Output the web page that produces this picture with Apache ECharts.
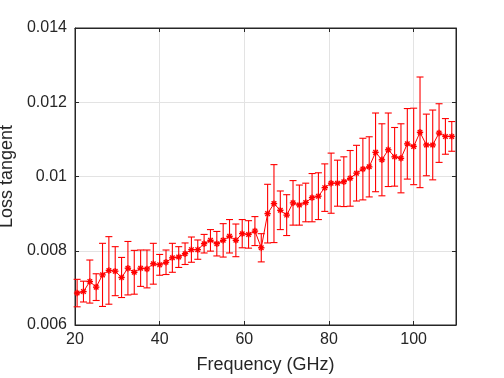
<!DOCTYPE html>
<html>
<head>
<meta charset="utf-8">
<script src="https://cdn.jsdelivr.net/npm/echarts@6/dist/echarts.min.js"></script>
<style>
  html, body { margin: 0; padding: 0; background: #fff; }
  #chart { width: 504px; height: 378px; }
</style>
</head>
<body>
<div id="chart"></div>
<script>
// frequency points (GHz)
var freq = [
  20.5, 22, 23.5, 25, 26.5, 28, 29.5, 31, 32.5, 34,
  35.5, 37, 38.5, 40, 41.5, 43, 44.5, 46, 47.5, 49,
  50.5, 52, 53.5, 55, 56.5, 58, 59.5, 61, 62.5, 64,
  65.5, 67, 68.5, 70, 71.5, 73, 74.5, 76, 77.5, 79,
  80.5, 82, 83.5, 85, 86.5, 88, 89.5, 91, 92.5, 94,
  95.5, 97, 98.5, 100, 101.5, 103, 104.5, 106, 107.5, 109
]
// mean loss tangent
var lossTan = [
  0.00686, 0.00690, 0.00717, 0.00702, 0.00735, 0.00747, 0.00745, 0.00728, 0.00753, 0.00742,
  0.00753, 0.00751, 0.00765, 0.00762, 0.00769, 0.00781, 0.00783, 0.00792, 0.00803, 0.00803,
  0.00819, 0.00828, 0.00819, 0.00828, 0.00839, 0.00828, 0.00846, 0.00844, 0.00853, 0.00808,
  0.00900, 0.00927, 0.00909, 0.00896, 0.00929, 0.00923, 0.00930, 0.00943, 0.00947, 0.00970,
  0.00982, 0.00982, 0.00986, 0.00995, 0.01009, 0.01020, 0.01026, 0.01065, 0.01045, 0.01072,
  0.01053, 0.01049, 0.01088, 0.01081, 0.01119, 0.01085, 0.01085, 0.01117, 0.01108, 0.01108
]
// half length of the error bar
var errBar = [
  0.00037, 0.00028, 0.00058, 0.00036, 0.00085, 0.00091, 0.00066, 0.00054, 0.00072, 0.00059,
  0.00049, 0.00051, 0.00055, 0.00028, 0.00033, 0.00039, 0.00028, 0.00029, 0.00034, 0.00026,
  0.00025, 0.00029, 0.00033, 0.00045, 0.00045, 0.00044, 0.00038, 0.00037, 0.00039, 0.00038,
  0.00079, 0.00105, 0.00052, 0.00055, 0.00060, 0.00054, 0.00052, 0.00065, 0.00063, 0.00064,
  0.00081, 0.00062, 0.00067, 0.00075, 0.00075, 0.00083, 0.00081, 0.00106, 0.00097, 0.00099,
  0.00079, 0.00093, 0.00095, 0.00103, 0.00149, 0.00083, 0.00094, 0.00079, 0.00048, 0.00040
]
var xTicks = [20, 40, 60, 80, 100]
var yTicks = ['0.006', '0.008', '0.01', '0.012', '0.014']

var red = '#ff0000'
var axisColor = '#262626'
var font = 'Liberation Sans, Arial, sans-serif'

var lineData = freq.map(function (f, i) { return [f, lossTan[i]] })
var barData = freq.map(function (f, i) { return [f, lossTan[i] - errBar[i], lossTan[i] + errBar[i], lossTan[i]] })

function renderErr(params, api) {
  var lo = api.coord([api.value(0), api.value(1)])
  var hi = api.coord([api.value(0), api.value(2)])
  var c = api.coord([api.value(0), api.value(3)])
  var cap = 3.5
  var r = 3.2
  var st = { stroke: red, lineWidth: 1.1 }
  var kids = [
    { type: 'line', shape: { x1: lo[0], y1: lo[1], x2: hi[0], y2: hi[1] }, style: st },
    { type: 'line', shape: { x1: lo[0] - cap, y1: lo[1], x2: lo[0] + cap, y2: lo[1] }, style: st },
    { type: 'line', shape: { x1: hi[0] - cap, y1: hi[1], x2: hi[0] + cap, y2: hi[1] }, style: st }
  ]
  // asterisk marker
  for (var k = 0; k < 4; k++) {
    var a = k * Math.PI / 4
    kids.push({
      type: 'line',
      shape: { x1: c[0] - r * Math.cos(a), y1: c[1] - r * Math.sin(a), x2: c[0] + r * Math.cos(a), y2: c[1] + r * Math.sin(a) },
      style: { stroke: red, lineWidth: 1.4 }
    })
  }
  return { type: 'group', children: kids }
}

var chart = echarts.init(document.getElementById('chart'))
chart.setOption({
  animation: false,
  backgroundColor: '#fff',
  grid: {
    left: 75, right: 48, top: 28, bottom: 53,
    outerBoundsMode: 'none', containLabel: false,
    show: true, borderColor: axisColor, borderWidth: 1
  },
  xAxis: [{
    type: 'value', min: 20, max: 110, interval: 20,
    name: 'Frequency (GHz)', nameLocation: 'middle', nameGap: 31,
    nameTextStyle: { fontFamily: font, fontSize: 18, color: axisColor },
    axisLine: { show: true, lineStyle: { color: axisColor } },
    axisTick: { show: true, inside: true, length: 4, lineStyle: { color: axisColor } },
    axisLabel: {
      fontFamily: font, fontSize: 16, color: axisColor, margin: 7, showMaxLabel: false,
      formatter: function (v) { return xTicks.indexOf(v) >= 0 ? String(v) : '' }
    },
    splitLine: { show: true, lineStyle: { color: '#e3e3e3' } }
  }, {
    type: 'value', min: 20, max: 110, interval: 20, position: 'top',
    axisLine: { show: true, lineStyle: { color: axisColor } },
    axisTick: { show: true, inside: true, length: 4, lineStyle: { color: axisColor } },
    axisLabel: { show: false }, splitLine: { show: false }
  }],
  yAxis: [{
    type: 'value', min: 0.006, max: 0.014, interval: 0.002,
    name: 'Loss tangent', nameLocation: 'middle', nameGap: 54,
    nameTextStyle: { fontFamily: font, fontSize: 18, color: axisColor },
    axisLine: { show: true, lineStyle: { color: axisColor } },
    axisTick: { show: true, inside: true, length: 4, lineStyle: { color: axisColor } },
    axisLabel: {
      fontFamily: font, fontSize: 16, color: axisColor, margin: 8,
      formatter: function (v) { return yTicks[Math.round((v - 0.006) / 0.002)] }
    },
    splitLine: { show: true, lineStyle: { color: '#e3e3e3' } }
  }, {
    type: 'value', min: 0.006, max: 0.014, interval: 0.002, position: 'right',
    axisLine: { show: true, lineStyle: { color: axisColor } },
    axisTick: { show: true, inside: true, length: 4, lineStyle: { color: axisColor } },
    axisLabel: { show: false }, splitLine: { show: false }
  }],
  series: [{
    type: 'line',
    data: lineData,
    symbol: 'none',
    lineStyle: { color: red, width: 1 },
    silent: true
  }, {
    type: 'custom',
    data: barData,
    renderItem: renderErr,
    encode: { x: 0, y: [1, 2] },
    silent: true
  }]
})
</script>
</body>
</html>
